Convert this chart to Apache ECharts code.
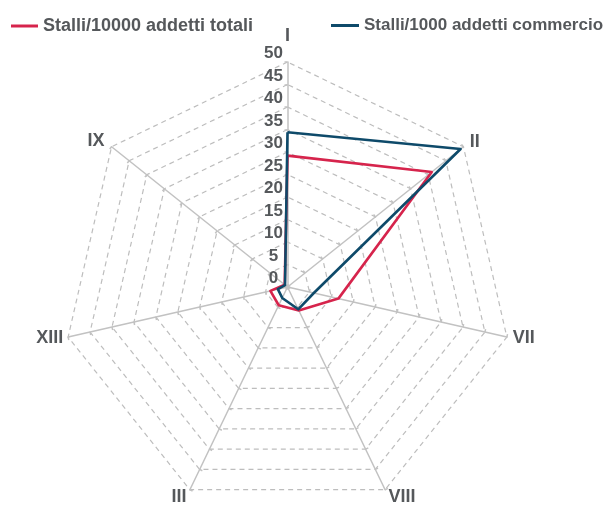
<!DOCTYPE html>
<html>
<head>
<meta charset="utf-8">
<script src="https://cdn.jsdelivr.net/npm/echarts@6/dist/echarts.min.js"></script>
<style>
html,body{margin:0;padding:0;background:#fff;}
#c{width:608px;height:505px;}
</style>
</head>
<body>
<div id="c"></div>
<script>
// Categories in clockwise order, starting at the top
const categories = ['I', 'II', 'VII', 'VIII', 'III', 'XIII', 'IX'];
const seriesNames = ['Stalli/10000 addetti totali', 'Stalli/1000 addetti commercio'];
const totali = [29.2, 41.0, 11.6, 5.8, 4.5, 3.9, 0.8];
const commercio = [34.4, 49.2, 6.0, 5.5, 2.7, 2.2, 0.7];
const axisMin = 0, axisMax = 50, axisSplits = 10;

const FONT = "'Liberation Sans', Arial, sans-serif";
const TXT = '#55585b';
const RED = '#d6244c';
const BLUE = '#0e4a6a';

// name gaps per category (label placement)
const nameGaps = {I: 9, II: 8, VII: 6, VIII: 8, III: 8, XIII: 5, IX: 9};

// ECharts radar runs counter-clockwise: keep the first axis, reverse the rest
const order = [0].concat(categories.slice(1).map((_, i) => categories.length - 1 - i));
const reorder = arr => order.map(i => arr[i]);

const indicator = order.map(i => {
  const n = categories[i];
  const o = {name: n, min: axisMin, max: axisMax, nameGap: nameGaps[n]};
  if (i === 0) {
    o.axisLabel = {show: true, color: TXT, fontFamily: FONT, fontWeight: 'bold', fontSize: 17,
                   margin: 14, align: 'center', verticalAlign: 'bottom'};
  }
  return o;
});

const chart = echarts.init(document.getElementById('c'), null, {renderer: 'canvas'});

chart.setOption({
  animation: false,
  backgroundColor: '#fff',
  legend: [
    {
      left: 6, top: 12, icon: 'rect', itemWidth: 27, itemHeight: 3, itemGap: 10,
      data: [seriesNames[0]],
      textStyle: {color: TXT, fontFamily: FONT, fontWeight: 'bold', fontSize: 18}
    },
    {
      left: 326, top: 12, icon: 'rect', itemWidth: 28, itemHeight: 3, itemGap: 10,
      data: [seriesNames[1]],
      textStyle: {color: TXT, fontFamily: FONT, fontWeight: 'bold', fontSize: 17}
    }
  ],
  radar: {
    center: [287.5, 287],
    radius: 225,
    startAngle: 90,
    splitNumber: axisSplits,
    shape: 'polygon',
    indicator: indicator,
    nameGap: 6,
    axisName: {color: TXT, fontFamily: FONT, fontWeight: 'bold', fontSize: 18},
    splitLine: {lineStyle: {color: '#bdbdbd', type: [5, 4], width: 1.2}},
    splitArea: {show: false},
    axisLine: {lineStyle: {color: '#c2c2c2', width: 1.5}},
    axisTick: {show: true, length: 3, lineStyle: {color: '#c2c2c2', width: 1.5}},
    axisLabel: {show: false}
  },
  series: [{
    type: 'radar',
    symbol: 'none',
    data: [
      {name: seriesNames[0], value: reorder(totali), lineStyle: {color: RED, width: 2.6}, itemStyle: {color: RED}},
      {name: seriesNames[1], value: reorder(commercio), lineStyle: {color: BLUE, width: 2.6}, itemStyle: {color: BLUE}}
    ]
  }]
});
</script>
</body>
</html>
